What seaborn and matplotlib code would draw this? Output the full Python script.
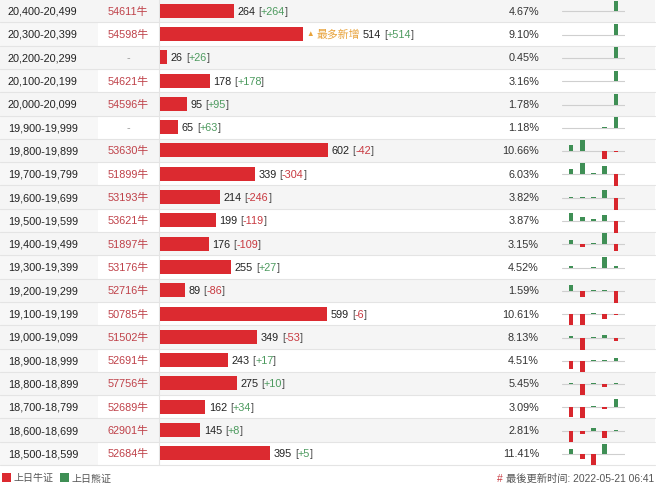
import matplotlib
matplotlib.use('Agg')
import matplotlib.pyplot as plt
import seaborn as sns
import pandas as pd
from matplotlib.patches import Rectangle

# ---------------- data ----------------
ranges = ["20,400-20,499", "20,300-20,399", "20,200-20,299", "20,100-20,199",
          "20,000-20,099", "19,900-19,999", "19,800-19,899", "19,700-19,799",
          "19,600-19,699", "19,500-19,599", "19,400-19,499", "19,300-19,399",
          "19,200-19,299", "19,100-19,199", "19,000-19,099", "18,900-18,999",
          "18,800-18,899", "18,700-18,799", "18,600-18,699", "18,500-18,599"]
bull_codes = [54611, 54598, None, 54621, 54596, None, 53630, 51899, 53193, 53621,
              51897, 53176, 52716, 50785, 51502, 52691, 57756, 52689, 62901, 52684]
bull_counts = [264, 514, 26, 178, 95, 65, 602, 339, 214, 199,
               176, 255, 89, 599, 349, 243, 275, 162, 145, 395]
day_changes = [264, 514, 26, 178, 95, 63, -42, -304, -246, -119,
               -109, 27, -86, -6, -53, 17, 10, 34, 8, 5]
pct_share = [4.67, 9.10, 0.45, 3.16, 1.78, 1.18, 10.66, 6.03, 3.82, 3.87,
             3.15, 4.52, 1.59, 10.61, 8.13, 4.51, 5.45, 3.09, 2.81, 11.41]
# recent daily changes per row (relative sparkline heights)
spark_changes = [
    [0, 0, 0, 0, 10.5], [0, 0, 0, 0, 10.5], [0, 0, 0, 0, 10.5], [0, 0, 0, 0, 10.5],
    [0, 0, 0, 0, 10.5], [0, 0, 0, 1.2, 10.5], [6, 11.5, 0, -8, -1.2],
    [5, 11, 1.2, 8, -12], [1.2, 0.8, 1.2, 8, -12], [8, 4, 2, 6, -12],
    [4, -3, 1.2, 11, -7], [1.2, -0.8, 0.8, 11, 1.5], [6, -6, 1.2, 1.2, -12],
    [-11, -11, 1.2, -5, -1.0], [1.2, -12, 1.0, 3, -3], [-8, -11, 1.0, 1.0, 3],
    [1.0, -11, 1.0, -3, 1.0], [-10, -11, 1.0, -1.5, 8], [-11, -3, 3, -7, 1.0],
    [5, -4.5, -11, 10, 0],
]
legend_labels = ["上日牛证", "上日熊证"]
footer_text = "最後更新时间: 2022-05-21 06:41"

# ---------------- style ----------------
sns.set_theme(style='white')
plt.rcParams['font.family'] = ['Liberation Sans', 'Noto Sans CJK SC', 'DejaVu Sans']

RED = '#dc2a30'
SRED = '#d8262d'
GREEN = '#3f8f55'
TXT_GREEN = '#4c9a5e'
TXT_RED = '#c8383f'
CODE_RED = '#bf4048'
ORANGE = '#e8a23a'
FS = 7.8

W, H = 660, 489
fig = plt.figure(figsize=(W / 100, H / 100), dpi=100)
bg = fig.add_axes([0, 0, 1, 1])
bg.set_xlim(0, W)
bg.set_ylim(H, 0)
bg.axis('off')

N = len(ranges)
ROW = 23.3
TABLE_BOTTOM = N * ROW

for i in range(N):
    y0 = i * ROW
    if i % 2 == 0:
        bg.add_patch(Rectangle((0, y0), 655, ROW, color='#f5f5f5', lw=0, zorder=0))
    else:
        bg.add_patch(Rectangle((0, y0), 98, ROW, color='#f7f7f7', lw=0, zorder=0))
    bg.plot([0, 655], [y0 + ROW, y0 + ROW], color='#e4e4e4', lw=0.8, zorder=1)
bg.plot([159, 159], [0, TABLE_BOTTOM], color='#e4e4e4', lw=0.8, zorder=1)

# ---------------- main bars ----------------
ax = fig.add_axes([160 / W, 1 - TABLE_BOTTOM / H, 168 / W, TABLE_BOTTOM / H])
df = pd.DataFrame({'range': ranges, 'bulls': bull_counts})
sns.barplot(data=df, x='bulls', y='range', orient='h', color=RED, width=0.6,
            saturation=1, linewidth=0, errorbar=None, ax=ax)
ax.set_xlim(0, 602)
ax.set_ylim(N - 0.5, -0.5)
ax.axis('off')
ax.patch.set_alpha(0)

renderer = fig.canvas.get_renderer()


def seq(x, y, pieces, size=FS, gap=0.0):
    for txt, col in pieces:
        t = bg.text(x, y, txt, color=col, fontsize=size, va='center', ha='left', zorder=5)
        bb = t.get_window_extent(renderer)
        x = bb.x1 + gap
    return x


for i in range(N):
    yc = i * ROW + ROW / 2
    bg.text(8, yc, ranges[i], fontsize=FS, color='#222222', va='center', ha='left')
    code = bull_codes[i]
    if code is None:
        bg.text(128, yc, '-', fontsize=FS, color='#999999', va='center', ha='center')
    else:
        bg.text(128, yc, f'{code}牛', fontsize=FS, color=CODE_RED, va='center', ha='center')
    bg.text(539, yc, f'{pct_share[i]:.2f}%', fontsize=FS, color='#333333', va='center', ha='right')

    end_x = ax.transData.transform((bull_counts[i], i))[0]
    x = end_x + 3.5
    if i == 1:
        x = seq(x, yc, [('▲', ORANGE)], size=5.5) + 2
        x = seq(x, yc, [('最多新增', ORANGE)]) + 3
    if i == 6:
        bg.text(163, yc, '重货区', fontsize=FS, color='white', va='center', ha='left', zorder=5)
    ch = day_changes[i]
    ccol = TXT_GREEN if ch >= 0 else TXT_RED
    x = seq(x, yc, [(str(bull_counts[i]), '#222222')]) + 3
    x = seq(x, yc, [('[', '#444444')], gap=-0.4)
    x = seq(x, yc, [(f'{ch:+d}', ccol)], gap=-0.2)
    seq(x, yc, [(']', '#444444')])

# ---------------- sparklines ----------------
labels5 = [f'd{k}' for k in range(5)]
for i, vals in enumerate(spark_changes):
    y0 = i * ROW
    sax = fig.add_axes([562 / W, 1 - (y0 + ROW) / H, 63 / W, ROW / H])
    pal = {lab: (GREEN if v >= 0 else SRED) for lab, v in zip(labels5, vals)}
    sdf = pd.DataFrame({'day': labels5, 'chg': vals})
    sns.barplot(data=sdf, x='day', y='chg', hue='day', palette=pal, legend=False,
                width=0.44, saturation=1, linewidth=0, errorbar=None, ax=sax)
    sax.axhline(0, color='#cfcfcf', lw=0.8, zorder=0)
    sax.set_xlim(-0.8, 4.8)
    sax.set_ylim(-11, 12.3)
    sax.axis('off')
    sax.patch.set_alpha(0)
    for p in sax.patches:
        p.set_clip_on(False)

# ---------------- legend & footer ----------------
ly = 478.5
bg.add_patch(Rectangle((2, ly - 4.5), 9, 9, color=RED, lw=0))
bg.text(14, ly, legend_labels[0], fontsize=7.2, color='#555555', va='center', ha='left')
bg.add_patch(Rectangle((60, ly - 4.5), 9, 9, color=GREEN, lw=0))
bg.text(72, ly, legend_labels[1], fontsize=7.2, color='#555555', va='center', ha='left')

t = bg.text(654, ly, footer_text, fontsize=7.4, color='#555555', va='center', ha='right')
bb = t.get_window_extent(renderer)
bg.text(bb.x0 - 3, ly, '#', fontsize=7.4, color=TXT_RED, va='center', ha='right')

fig.savefig('out.png', dpi=100)
